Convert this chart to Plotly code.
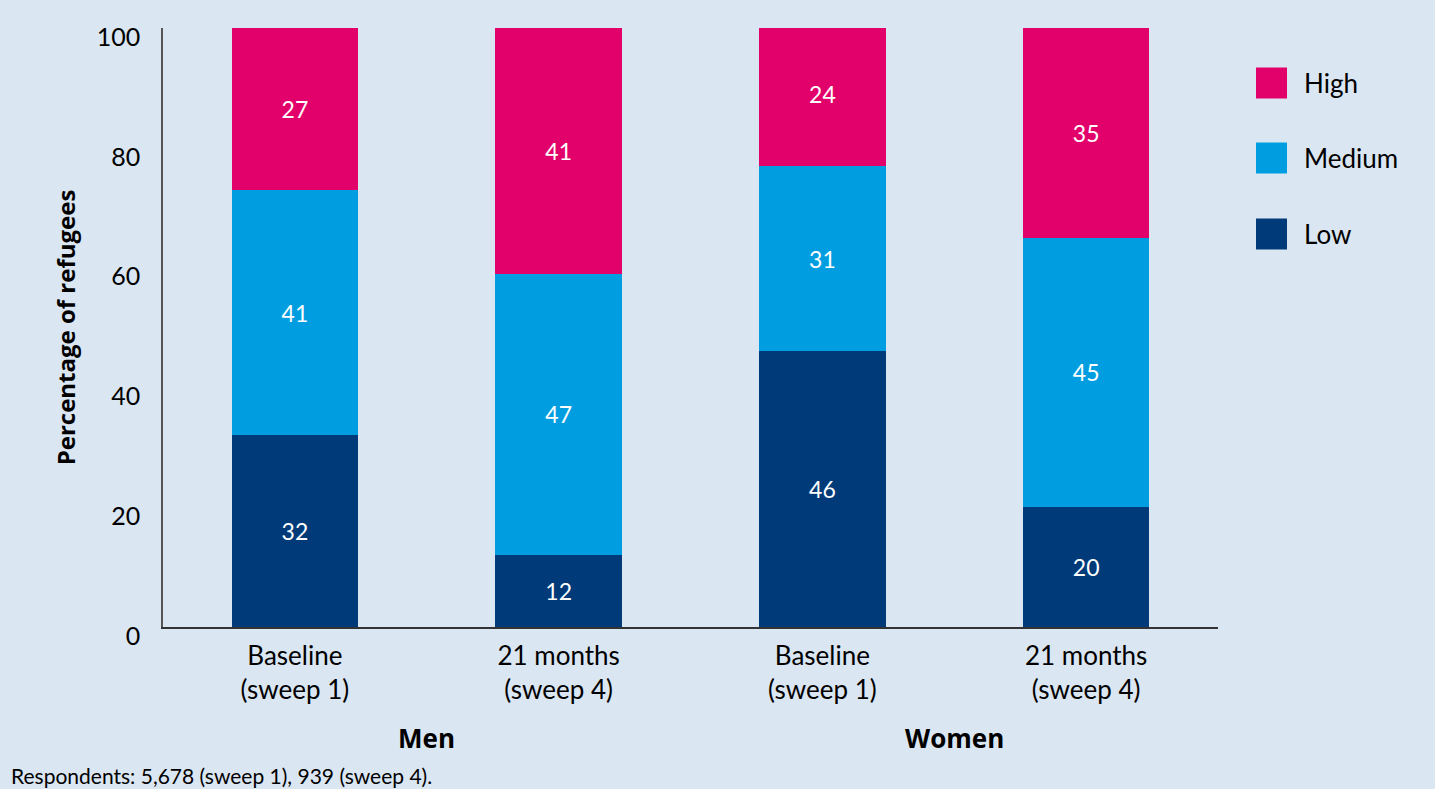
import plotly.graph_objects as go

# ---- data ----
category_keys = ["Men|Baseline", "Men|21m", "Women|Baseline", "Women|21m"]
category_labels = ["Baseline<br>(sweep 1)", "21 months<br>(sweep 4)",
                   "Baseline<br>(sweep 1)", "21 months<br>(sweep 4)"]
groups = ["Men", "Women"]
series_names = ["Low", "Medium", "High"]
low_values = [32, 12, 46, 20]
medium_values = [41, 47, 31, 45]
high_values = [27, 41, 24, 35]
y_ticks = [0, 20, 40, 60, 80, 100]
footnote = "Respondents: 5,678 (sweep 1), 939 (sweep 4)."

colors = {"Low": "#003a78", "Medium": "#009ee0", "High": "#e2006a"}
values = {"Low": low_values, "Medium": medium_values, "High": high_values}

FONT = "Lato, 'Open Sans', sans-serif"
BOLD_FONT = "'Open Sans', Lato, sans-serif"
BG = "#dae6f2"

fig = go.Figure()
for name in series_names:
    fig.add_trace(go.Bar(
        x=category_keys, y=values[name], name=name,
        marker=dict(color=colors[name], line=dict(width=0)),
        text=values[name], texttemplate="%{text}",
        textposition="inside", insidetextanchor="middle",
        textfont=dict(color="white", size=23, family=FONT),
        textangle=0, showlegend=False,
    ))

# plot area geometry (pixels)
W, H = 1435, 789
L, R, T, B = 163, 1218, 28, 627
pw, ph = R - L, B - T

def px_x(x):
    return (x - L) / pw

def px_y(y):
    return (B - y) / ph

annotations = []
shapes = []
# group labels
for i, g in enumerate(groups):
    annotations.append(dict(
        x=2 * i + 0.5, y=px_y(738), xref="x", yref="paper",
        text=f"<b>{g}</b>", showarrow=False,
        font=dict(size=26, color="black", family=BOLD_FONT),
        xanchor="center", yanchor="middle"))

# legend (High, Medium, Low from top)
legend_order = ["High", "Medium", "Low"]
legend_centers = [83, 158, 234]
for name, cy in zip(legend_order, legend_centers):
    shapes.append(dict(
        type="rect", xref="paper", yref="paper",
        x0=px_x(1256), x1=px_x(1287), y0=px_y(cy + 15.5), y1=px_y(cy - 15.5),
        fillcolor=colors[name], line=dict(width=0)))
    annotations.append(dict(
        x=px_x(1302), y=px_y(cy), xref="paper", yref="paper",
        text=name, showarrow=False, xanchor="left", yanchor="middle",
        font=dict(size=26, color="black", family=FONT)))

# footnote
annotations.append(dict(
    x=px_x(9), y=px_y(776), xref="paper", yref="paper",
    text=footnote, showarrow=False, xanchor="left", yanchor="middle",
    font=dict(size=21, color="black", family=FONT)))

fig.update_layout(
    barmode="stack", bargap=0.52,
    width=W, height=H,
    margin=dict(l=L, r=W - R, t=T, b=H - B, pad=0, autoexpand=False),
    paper_bgcolor=BG, plot_bgcolor=BG,
    font=dict(family=FONT, color="black"),
    annotations=annotations, shapes=shapes,
    uniformtext=dict(mode=False),
)
fig.update_xaxes(
    type="category", categoryorder="array", categoryarray=category_keys,
    tickvals=category_keys, ticktext=category_labels,
    tickfont=dict(size=26, family=FONT, color="black"),
    showline=True, linecolor="#333333", linewidth=1.5,
    ticks="", showgrid=False, zeroline=False,
    ticklabelstandoff=5,
)
fig.update_yaxes(
    range=[0, 100], tickvals=y_ticks,
    tickfont=dict(size=25, family=FONT, color="black"),
    showline=True, linecolor="#555555", linewidth=1.5,
    ticks="", showgrid=False, zeroline=False,
    ticklabelstandoff=16, ticklabelshift=9,
    title=dict(text="<b>Percentage of refugees</b>",
               font=dict(size=24, family=BOLD_FONT, color="black"), standoff=14),
)

fig.write_html("out.html", post_script="document.body.style.margin='0';",
               config={"displayModeBar": False})
